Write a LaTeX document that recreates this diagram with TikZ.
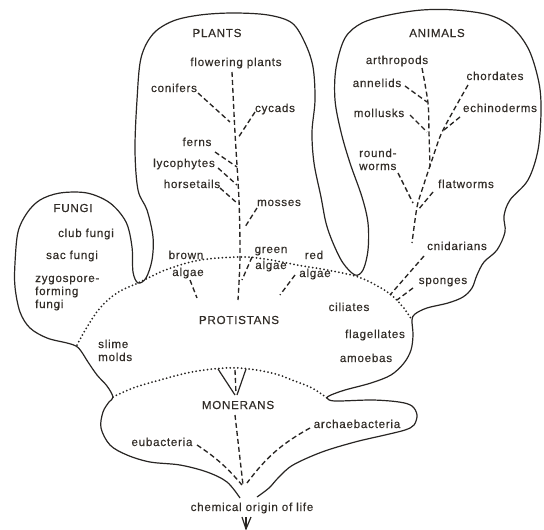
\documentclass[tikz,border=0pt]{standalone}
\usepackage{fontspec}
\newfontfamily\labfont[LetterSpace=6.5,FakeBold=0.45]{Liberation Sans}
\definecolor{ink}{RGB}{40,37,35}
\definecolor{txt}{RGB}{50,45,40}
\begin{document}
\begin{tikzpicture}[x=1pt,y=-1pt,
  lab/.style={font=\labfont\fontsize{11.6}{13}\selectfont, text=txt, inner sep=0pt, anchor=base},
  labl/.style={lab, anchor=base west},
  outl/.style={draw=ink, line width=1.2pt, line join=round},
  dotl/.style={draw=ink, line width=2pt, line cap=round, dash pattern=on 0pt off 3.8pt},
  dashl/.style={draw=ink, line width=1.35pt, dash pattern=on 5pt off 3pt},
  solidl/.style={draw=ink, line width=1.2pt},
]
\useasboundingbox (0,0) rectangle (544,530);

% ---------- outline ----------
\draw[outl] plot[smooth, tension=0.55] coordinates {
 (240,498) (227,482) (207,472) (180,465) (150,462) (127,455) (110,445) (101,428)
 (103,412) (109,402) (113,397) (107,386) (97,375) (88,362) (81,351) (76,346)
 (67,343) (47,338) (30,328) (20,312) (15,287) (15,263) (18,232) (27,213) (40,200)
 (60,193) (87,193) (110,203) (126,222) (132,247) (133,272) (138,283) (146,278)
 (152,260) (153,237) (147,210) (138,190) (135,150) (137,100) (141,58) (153,34)
 (173,21) (200,15) (233,13) (268,15) (292,23) (305,43) (313,67) (315,100)
 (312,132) (314,163) (321,197) (326,223) (333,243) (343,263) (355,275)
 (363,270) (368,250) (368,223) (362,197) (350,163) (341,132) (335,100)
 (336,68) (345,38) (362,23) (389,15) (422,10) (455,10) (489,15) (512,27)
 (529,50) (539,83) (541,112) (538,150) (528,180) (510,200) (504,216)
 (505,232) (497,250) (484,262) (477,275) (472,288) (463,297) (448,303)
 (427,308) (415,314) (412,320) (413,335) (411,350) (404,363) (391,375)
 (371,383) (345,390) (331,395) (327,398) (335,401) (372,400) (399,402)
 (412,406) (417,415) (414,425) (405,430) (385,435) (355,442) (322,452)
 (293,465) (279,477) (269,488) (257,497)
};

% ---------- dotted borders ----------
\draw[dotl] plot[smooth, tension=0.6] coordinates {
 (77,345) (87,327) (100,308) (117,293) (138,283) (150,277) (168,269)
 (200,260) (240,257) (265,259) (297,265) (327,270) (355,276) (372,283)
 (390,294) (403,307) (412,320)
};
\draw[dotl] plot[smooth, tension=0.6] coordinates {
 (113,397) (133,388) (160,380) (187,373) (213,369) (240,368) (272,373)
 (292,380) (312,388) (327,398)
};

% ---------- labels ----------
\node[lab] (plants) at (217,37) {PLANTS};
\node[lab] (flower) at (236,66) {flowering plants};
\node[lab] (conif) at (174,92) {conifers};
\node[lab] (cycad) at (275,112) {cycads};
\node[lab] (ferns) at (197,146) {ferns};
\node[lab] (lyco) at (184,167) {lycophytes};
\node[lab] (horse) at (192,188) {horsetails};
\node[lab] (moss) at (279,206) {mosses};
\node[lab] (brown) at (186,259) {brown};
\node[lab] (brownal) at (188,276) {algae};
\node[lab] (green) at (271,253) {green};
\node[lab] (greenal) at (271,269) {algae};
\node[lab] (red) at (314,259) {red};
\node[lab] (redal) at (315,277) {algae};
\node[lab] (prot) at (239,324) {PROTISTANS};
\node[lab] (cil) at (349,311) {ciliates};
\node[lab] (flag) at (375,338) {flagellates};
\node[lab] (amoe) at (366,362) {amoebas};
\node[labl] (slime) at (98,348) {slime};
\node[labl] (molds) at (98,361) {molds};
\node[lab] (fungi) at (73,212) {FUNGI};
\node[lab] (club) at (86,237) {club fungi};
\node[lab] (sac) at (72,259) {sac fungi};
\node[labl] (zygo) at (35,282) {zygospore-};
\node[labl] (form) at (35,295) {forming};
\node[labl] (zfun) at (35,308) {fungi};
\node[lab] (anim) at (437,37) {ANIMALS};
\node[lab] (arth) at (397,64) {arthropods};
\node[lab] (anne) at (377,87) {annelids};
\node[lab] (chor) at (495,80) {chordates};
\node[lab] (moll) at (379,117) {mollusks};
\node[lab] (echi) at (500,112) {echinoderms};
\node[labl] (round) at (359,157) {round-};
\node[labl] (worms) at (359,170) {worms};
\node[lab] (flat) at (466,188) {flatworms};
\node[lab] (cnid) at (457,250) {cnidarians};
\node[lab] (spon) at (443,284) {sponges};
\node[lab] (mone) at (238,409) {MONERANS};
\node[lab] (eub) at (162,446) {eubacteria};
\node[lab] (arch) at (357,428) {archaebacteria};
\node[lab] (origin) at (252,511) {chemical origin of life};

% ---------- plant tree ----------
\coordinate (pTop) at (232,72);
\coordinate (pBot) at (238,300);
\draw[dashl] plot[smooth] coordinates {(pTop) (235,133) (239,200) (240,257) (pBot)};
\coordinate (c1) at (198,93);  \coordinate (c2) at (230,122);
\coordinate (y1) at (255,112); \coordinate (y2) at (238,138);
\coordinate (f1) at (215,152); \coordinate (f2) at (237,167);
\coordinate (l1) at (218,168); \coordinate (l2) at (237,185);
\coordinate (h1) at (220,188); \coordinate (h2) at (237,203);
\coordinate (m1) at (257,208); \coordinate (m2) at (245,227);
\coordinate (b1) at (190,280); \coordinate (b2) at (197,298);
\coordinate (g1) at (252,257); \coordinate (g2) at (242,280);
\coordinate (r1) at (295,275); \coordinate (r2) at (280,295);
\foreach \a/\b in {c1/c2,y1/y2,f1/f2,l1/l2,h1/h2,m1/m2,b1/b2,g1/g2,r1/r2}
  \draw[dashl] (\a) -- (\b);

% ---------- animal tree ----------
\coordinate (aTop) at (422,68);
\coordinate (aJoin) at (430,167);
\draw[dashl] plot[smooth] coordinates {(aTop) (428,103) (429,133) (aJoin)};
\coordinate (chTop) at (468,85);
\coordinate (aBot) at (412,243);
\draw[dashl] plot[smooth] coordinates {(chTop) (443,130) (433,157) (423,187) (417,207) (aBot)};
\coordinate (an1) at (405,86);  \coordinate (an2) at (427,102);
\coordinate (mo1) at (410,115); \coordinate (mo2) at (427,132);
\coordinate (ec1) at (460,117); \coordinate (ec2) at (444,130);
\coordinate (ro1) at (398,173); \coordinate (ro2) at (413,203);
\coordinate (fl1) at (433,192); \coordinate (fl2) at (418,210);
\coordinate (cn1) at (424,256); \coordinate (cn2) at (390,295);
\coordinate (sp1) at (413,288); \coordinate (sp2) at (397,300);
\foreach \a/\b in {an1/an2,mo1/mo2,ec1/ec2,ro1/ro2,fl1/fl2,cn1/cn2,sp1/sp2}
  \draw[dashl] (\a) -- (\b);

% ---------- moneran tree ----------
\coordinate (vL) at (218,369); \coordinate (vR) at (246,369);
\coordinate (vM) at (235,370); \coordinate (vB) at (235,395);
\coordinate (vB2) at (237,395);
\draw[solidl] (vL) -- (vB);
\draw[solidl] (vR) -- (vB2);
\draw[dashl] (vM) -- (236,394);
\coordinate (mTop) at (235,415); \coordinate (mBot) at (243,485);
\draw[dashl] (mTop) -- (mBot);
\coordinate (eu1) at (197,445); \coordinate (eu2) at (242,485);
\draw[dashl] (eu1) to[bend left=8] (eu2);
\coordinate (ar1) at (310,428); \coordinate (ar2) at (247,483);
\draw[dashl] (ar1) to[bend right=12] (ar2);

% ---------- root mark ----------
\coordinate (rt1) at (242,517); \coordinate (rt2) at (246,517);
\coordinate (rt3) at (251,517); \coordinate (rtB) at (246,529);
\draw[solidl] (rt1) -- (rtB) -- (rt3);
\draw[solidl] (rt2) -- (rtB);
\end{tikzpicture}
\end{document}
